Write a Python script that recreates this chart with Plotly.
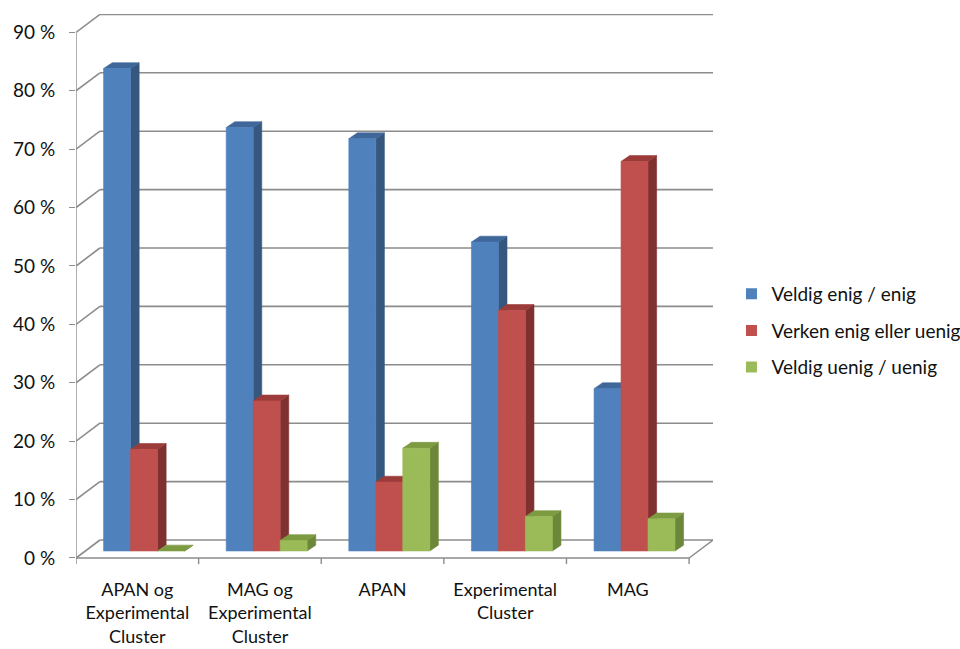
import plotly.graph_objects as go

# ---------------- data ----------------
categories = ["APAN og<br>Experimental<br>Cluster",
              "MAG og<br>Experimental<br>Cluster",
              "APAN",
              "Experimental<br>Cluster",
              "MAG"]
series_names = ["Veldig enig / enig", "Verken enig eller uenig", "Veldig uenig / uenig"]
veldig_enig = [82.6, 72.5, 70.6, 52.9, 27.8]
verken = [17.4, 25.7, 11.8, 41.2, 66.7]
veldig_uenig = [0.0, 1.8, 17.6, 5.9, 5.5]
y_tick_values = [0, 10, 20, 30, 40, 50, 60, 70, 80, 90]
y_tick_labels = ["0 %", "10 %", "20 %", "30 %", "40 %", "50 %", "60 %", "70 %", "80 %", "90 %"]

# ---------------- style ----------------
front_col = ["#4F81BD", "#C0504D", "#9BBB59"]
side_col = ["#36587F", "#7F312F", "#6C873A"]
top_col = ["#3F679A", "#9C3C3A", "#7D9B41"]
grid_col = "#8C8C8C"
FONT = "Lato"

# pseudo-3D geometry (data units)
wall_dx, wall_dy = 0.195, 3.08      # depth offset of the back wall
bar_base = 1.2                      # bar front plane offset above the front floor edge
bar_w = 0.22
group_shift = 0.055
bar_dx, bar_dy = 0.07, 1.0          # bar depth

fig = go.Figure()

n = len(categories)
x_left, x_right = -0.5, n - 0.5

# back wall gridlines + left side wall diagonals
gx, gy = [], []
for v in y_tick_values:
    gx += [x_left + wall_dx, x_right + wall_dx, None]
    gy += [v + wall_dy, v + wall_dy, None]
    gx += [x_left, x_left + wall_dx, None]
    gy += [v, v + wall_dy, None]
fig.add_trace(go.Scatter(x=gx, y=gy, mode="lines", line=dict(color=grid_col, width=1.6),
                         hoverinfo="skip", showlegend=False))

# floor front edge, right edge, front y-axis line, x tick marks
ax_x = [x_left, x_right, x_right + wall_dx, None, x_left, x_left, None]
ax_y = [0, 0, wall_dy, None, 0, y_tick_values[-1], None]
for b in range(n + 1):
    ax_x += [x_left + b, x_left + b, None]
    ax_y += [0, -1.05, None]
fig.add_trace(go.Scatter(x=ax_x, y=ax_y, mode="lines", line=dict(color=grid_col, width=1.4),
                         hoverinfo="skip", showlegend=False))

# bars (front, side, top faces) drawn series by series
all_series = [veldig_enig, verken, veldig_uenig]
for s, vals in enumerate(all_series):
    fx, fy, sx, sy, tx, ty = [], [], [], [], [], []
    for k, v in enumerate(vals):
        x0 = k + group_shift + (s - 1) * bar_w - bar_w / 2
        x1 = x0 + bar_w
        y0 = bar_base
        y1 = bar_base + v
        # side face
        sx += [x1, x1 + bar_dx, x1 + bar_dx, x1, x1, None]
        sy += [y0, y0 + bar_dy, y1 + bar_dy, y1, y0, None]
        # top face
        tx += [x0, x0 + bar_dx, x1 + bar_dx, x1, x0, None]
        ty += [y1, y1 + bar_dy, y1 + bar_dy, y1, y1, None]
        # front face
        if v > 0:
            fx += [x0, x1, x1, x0, x0, None]
            fy += [y0, y0, y1, y1, y0, None]
    for xs, ys, c in [(sx, sy, side_col[s]), (tx, ty, top_col[s]), (fx, fy, front_col[s])]:
        fig.add_trace(go.Scatter(x=xs, y=ys, mode="lines", fill="toself", fillcolor=c,
                                 line=dict(color=c, width=0.6), hoverinfo="skip",
                                 showlegend=False))

# legend entries
for s, name in enumerate(series_names):
    fig.add_trace(go.Scatter(x=[None], y=[None], mode="markers", name=name,
                             legendgroup=name,
                             marker=dict(symbol="square", size=11, color=front_col[s])))

fig.update_layout(
    width=960, height=649,
    margin=dict(l=76, r=247, t=14, b=84, autoexpand=False),
    paper_bgcolor="white", plot_bgcolor="white",
    font=dict(family=FONT, size=18, color="#111111"),
    showlegend=True,
    legend=dict(x=1.029, xanchor="left", y=0.425, yanchor="middle",
                font=dict(family=FONT, size=19, color="#111111"),
                tracegroupgap=9, traceorder="grouped",
                bgcolor="rgba(0,0,0,0)", borderwidth=0),
    xaxis=dict(range=[x_left, x_right + wall_dx], tickvals=list(range(n)),
               ticktext=categories, ticks="", showgrid=False, zeroline=False,
               showline=False, ticklabelstandoff=12, fixedrange=True, automargin=False),
    yaxis=dict(range=[-1.2, 93.15], tickvals=y_tick_values, ticktext=y_tick_labels,
               ticks="outside", ticklen=6, tickcolor=grid_col, tickwidth=1.4,
               showgrid=False, zeroline=False, showline=False,
               tickfont=dict(size=19),
               ticklabelstandoff=10, fixedrange=True, automargin=False),
)

fig.write_html("out.html", config={"displayModeBar": False},
               post_script="document.body.style.margin='0px';document.body.style.padding='0px';")
